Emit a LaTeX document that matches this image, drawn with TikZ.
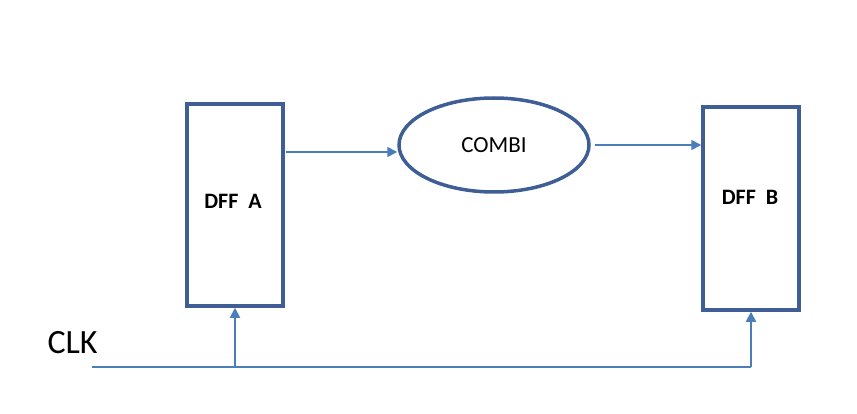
\documentclass[tikz,border=0pt]{standalone}
\usepackage{fontspec}
\setmainfont{Carlito}
\usetikzlibrary{arrows.meta,shapes.geometric}
\definecolor{boxline}{HTML}{3F5E96}
\definecolor{wire}{HTML}{4A7EBB}
\tikzset{
  ff/.style={draw=boxline, line width=3.5pt, fill=white, minimum width=96pt, inner sep=0pt},
  logic/.style={ellipse, draw=boxline, line width=3.5pt, minimum width=190pt, minimum height=94pt, inner sep=0pt},
  sig/.style={draw=wire, line width=1.8pt, -{Triangle[length=10pt,width=10pt]}},
  bus/.style={draw=wire, line width=1.8pt},
  lbl/.style={font=\fontsize{22}{26}\selectfont\bfseries}
}
\begin{document}
\begin{tikzpicture}[x=1pt,y=-1pt]
  \useasboundingbox (0,0) rectangle (857,414);
  % flip-flops
  \node[ff, minimum height=202pt] (ffa) at (235,205) {};
  \node[lbl] (ffal) at (233,201) {DFF\ \ A};
  \node[ff, minimum height=203pt] (ffb) at (751,208.5) {};
  \node[lbl] (ffbl) at (750,197) {DFF\ \ B};
  % combinational block
  \node[logic] (comb) at (494,145) {};
  \node[font=\fontsize{23}{27}\selectfont] (combl) at (494,145) {COMBI};
  % clock label and clock tap points
  \node[font=\fontsize{34}{40}\selectfont, anchor=west] (clk) at (44,343) {CLK};
  \coordinate (clkin) at (92,367);
  \coordinate (tapa) at (235,367);
  \coordinate (tapb) at (751,367);
  % data path
  \draw[sig] (ffa.east |- 0,152) ++(1.5,0) -- (comb.west |- 0,152);
  \draw[sig] (comb.east |- 0,145) ++(4,0) -- (ffb.west |- 0,145);
  % clock distribution
  \draw[bus] (clkin) -- (tapb);
  \draw[sig] (tapa) -- (ffa.south);
  \draw[sig] (tapb) -- (ffb.south);
\end{tikzpicture}
\end{document}
